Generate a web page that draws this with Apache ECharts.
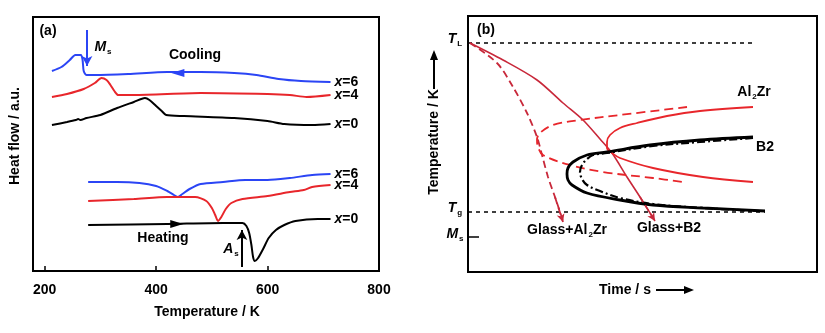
<!DOCTYPE html>
<html><head><meta charset="utf-8">
<script src="https://cdn.jsdelivr.net/npm/echarts@6/dist/echarts.min.js"></script>
<style>html,body{margin:0;padding:0;background:#fff}#c{width:825px;height:333px}</style>
</head><body><div id="c"></div>
<script>
// ---------- Panel (a): DSC curves, [Temperature K, heat flow a.u.] ----------
const aTicks = [200, 400, 600, 800];
const coolX6 = [[213,200],[230,204],[245,211],[255,216],[265,216],[268,211],[270,200],[275,196],[290,196],[350,197],[420,199],[480,199],[540,198],[580,196],[620,192],[660,190],[713,189]];
const coolX4 = [[213,174],[240,177],[270,182],[290,188],[302,193],[311,191],[318,186],[325,180],[332,176],[360,176],[480,178],[600,177],[640,176],[670,174],[713,176]];
const coolX0 = [[213,146],[240,149],[256,151],[260,152],[264,151],[275,153],[300,156],[330,163],[360,169],[380,173],[388,171],[400,165],[410,160],[418,156],[450,155],[540,153],[600,150],[630,147],[680,146],[713,147]];
const heatX6 = [[278,89],[330,89],[370,88],[400,85],[420,80],[432,76],[439,74],[447,77],[460,82],[480,87],[520,89],[560,91],[600,91],[640,93],[680,96],[713,97]];
const heatX4 = [[278,70],[360,72],[420,74],[470,74],[490,70],[500,63],[506,56],[511,50],[517,54],[525,62],[535,68],[555,72],[600,75],[640,79],[665,81],[680,84],[713,86]];
const heatX0 = [[278,46],[420,47],[520,48],[555,48],[562,45],[567,38],[571,26],[574,14],[577,10],[583,13],[592,22],[602,33],[615,41],[630,46],[650,50],[690,52],[713,52]];
const msArrow = [[276,241],[276,205]];
const asArrow = [[554,4],[554,41]];
const coolArrowAt = [439,198];
const heatArrowAt = [437,47];

// ---------- Panel (b): schematic TTT diagram, [time a.u., temperature a.u.] ----------
const bTL = [[0,229],[284,229]];
const bTg = [[0,60],[297,60]];
const bMs = [[0,35],[11,35]];
const coolSolid = [[2,229],[35,212],[69,192],[95,169],[115,152],[132,133],[144,119],[159,95],[172,75],[187,51]];
const coolDashed = [[2,229],[29,209],[45,185],[59,159],[69,135],[74,117],[80,95],[87,75],[94,54],[95,50]];
const al2zrSolid = [[285,165],[232,161],[199,156],[169,149],[152,144],[142,137],[139,130],[139,124],[144,119],[152,114],[185,104],[235,95],[285,90]];
const al2zrDashed = [[219,165],[152,157],[112,152],[85,147],[72,139],[69,132],[70,125],[75,117],[102,107],[135,100],[185,94],[215,90]];
const b2Solid = [[285,135],[232,132],[182,127],[139,120],[119,117],[105,110],[100,104],[99,98],[100,92],[104,87],[119,79],[152,72],[185,67],[235,64],[297,61]];
const b2DashDot = [[285,134],[232,130],[185,126],[139,119],[125,117],[119,113],[114,107],[112,100],[114,93],[119,87],[132,81],[152,74],[185,68],[235,64],[292,61]];

const BLUE = '#2b45f5', RED = '#e8262b', DRED = '#c8283a';
const FONT = 'Liberation Sans, Arial, sans-serif';
const richBase = {
  i: {fontSize: 14, fontStyle: 'italic', fontWeight: 'bold', fontFamily: FONT},
  n: {fontSize: 14, fontWeight: 'bold', fontFamily: FONT},
  s: {fontSize: 8, fontWeight: 'bold', fontFamily: FONT, padding: [9, 0, 0, 1]}
};

function lineA(data, color, name) {
  return {
    type: 'line', xAxisIndex: 0, yAxisIndex: 0, data: data, showSymbol: false, smooth: 0.25,
    lineStyle: {color: color, width: 2}, silent: true,
    endLabel: {show: true, formatter: '{i|x}{n|=' + name + '}', rich: richBase, distance: 4, color: '#000'}
  };
}
function lineB(data, color, width, type, smooth) {
  return {
    type: 'line', xAxisIndex: 1, yAxisIndex: 1, data: data, showSymbol: false, smooth: smooth,
    lineStyle: {color: color, width: width, type: type}, silent: true
  };
}
function arrowLine(pts, color, xi) {
  return {
    type: 'line', xAxisIndex: xi, yAxisIndex: xi, data: [], silent: true,
    markLine: {silent: true, symbol: ['none', 'arrow'], symbolSize: [8, 10], label: {show: false},
      lineStyle: {color: color, width: 2, type: 'solid'},
      data: [[{coord: pts[0]}, {coord: pts[1]}]]}
  };
}

const s1 = lineA(coolX6, BLUE, '6');
s1.markPoint = {symbol: 'triangle', symbolSize: [8, 13], symbolRotate: 90, itemStyle: {color: BLUE}, label: {show: false}, data: [{coord: coolArrowAt}]};
const s6 = lineA(heatX0, '#000', '0');
s6.markPoint = {symbol: 'triangle', symbolSize: [8, 13], symbolRotate: -90, itemStyle: {color: '#000'}, label: {show: false}, data: [{coord: heatArrowAt}]};

const series = [
  s1, lineA(coolX4, RED, '4'), lineA(coolX0, '#000', '0'),
  lineA(heatX6, BLUE, '6'), lineA(heatX4, RED, '4'), s6,
  arrowLine(msArrow, BLUE, 0), arrowLine(asArrow, '#000', 0),
  lineB(bTL, '#000', 1.5, [4, 4], false),
  lineB(bTg, '#000', 1.5, [4, 4], false),
  lineB(bMs, '#000', 1.5, 'solid', false),
  lineB(coolSolid, DRED, 1.6, 'solid', 0.3),
  lineB(coolDashed, DRED, 1.8, [7, 4], 0.3),
  lineB(al2zrSolid, RED, 1.8, 'solid', 0.35),
  lineB(al2zrDashed, RED, 1.8, [9, 5], 0.35),
  lineB(b2DashDot, '#000', 2.2, [8, 3, 2, 3], 0.35),
  lineB(b2Solid, '#000', 2.8, 'solid', 0.35),
  arrowLine([coolDashed[7], coolDashed[9]], DRED, 1),
  arrowLine([coolSolid[8], coolSolid[9]], DRED, 1)
];
series[17].markLine.lineStyle = {color: DRED, width: 1.8, type: [7, 4]};
series[17].markLine.symbolSize = [6, 8];
series[18].markLine.lineStyle = {color: DRED, width: 1.6};
series[18].markLine.symbolSize = [6, 8];

function txt(x, y, text, opts) {
  return Object.assign({type: 'text', x: x, y: y, silent: true,
    style: Object.assign({text: text, fill: '#000', font: 'bold 14px ' + FONT, align: 'center', verticalAlign: 'middle', rich: richBase}, opts || {})});
}

const option = {
  animation: false,
  backgroundColor: '#fff',
  grid: [
    {left: 33, right: 446, top: 17, bottom: 62, show: true, borderColor: '#000', borderWidth: 2, containLabel: false},
    {left: 468, right: 8, top: 16, bottom: 61, show: true, borderColor: '#000', borderWidth: 2, containLabel: false}
  ],
  xAxis: [
    {type: 'value', gridIndex: 0, min: 179, max: 800,
      axisLine: {show: true, onZero: false, lineStyle: {color: '#000', width: 2}},
      axisTick: {show: true, inside: true, length: 5, customValues: aTicks, lineStyle: {color: '#000', width: 1.5}},
      axisLabel: {customValues: aTicks, color: '#000', fontSize: 14, fontWeight: 'bold', fontFamily: FONT, margin: 12, showMaxLabel: true, showMinLabel: true},
      splitLine: {show: false}},
    {type: 'value', gridIndex: 1, min: 0, max: 349, axisLine: {show: false}, axisTick: {show: false}, axisLabel: {show: false}, splitLine: {show: false}}
  ],
  yAxis: [
    {type: 'value', gridIndex: 0, min: 0, max: 254, axisLine: {show: false}, axisTick: {show: false}, axisLabel: {show: false}, splitLine: {show: false}},
    {type: 'value', gridIndex: 1, min: 0, max: 256, axisLine: {show: false}, axisTick: {show: false}, axisLabel: {show: false}, splitLine: {show: false}}
  ],
  series: series,
  graphic: [
    txt(48, 31, '(a)'),
    txt(195, 55, 'Cooling'),
    txt(163, 238, 'Heating'),
    txt(103, 47, '{i|M}{s|s}'),
    txt(231, 249, '{i|A}{s|s}'),
    txt(207, 312, 'Temperature / K'),
    txt(15, 136, 'Heat flow / a.u.', {}),
    txt(486, 30, '(b)'),
    txt(455, 39, '{i|T}{s|L}'),
    txt(455, 208, '{i|T}{s|g}'),
    txt(455, 234, '{i|M}{s|s}'),
    txt(754, 92, '{n|Al}{s|2}{n|Zr}'),
    txt(765, 147, 'B2'),
    txt(567, 230, '{n|Glass+Al}{s|2}{n|Zr}'),
    txt(669, 228, 'Glass+B2'),
    txt(625, 290, 'Time / s'),
    txt(434, 142, 'Temperature / K'),
    {type: 'line', silent: true, shape: {x1: 656, y1: 290, x2: 686, y2: 290}, style: {stroke: '#000', lineWidth: 2}},
    {type: 'polygon', silent: true, shape: {points: [[694, 290], [684, 286], [684, 294]]}, style: {fill: '#000'}},
    {type: 'line', silent: true, shape: {x1: 434, y1: 89, x2: 434, y2: 58}, style: {stroke: '#000', lineWidth: 2}},
    {type: 'polygon', silent: true, shape: {points: [[434, 50], [430, 60], [438, 60]]}, style: {fill: '#000'}}
  ]
};
option.graphic[6].rotation = Math.PI / 2;
option.graphic[16].rotation = Math.PI / 2;

const chart = echarts.init(document.getElementById('c'), null, {renderer: 'canvas'});
chart.setOption(option);
</script></body></html>
